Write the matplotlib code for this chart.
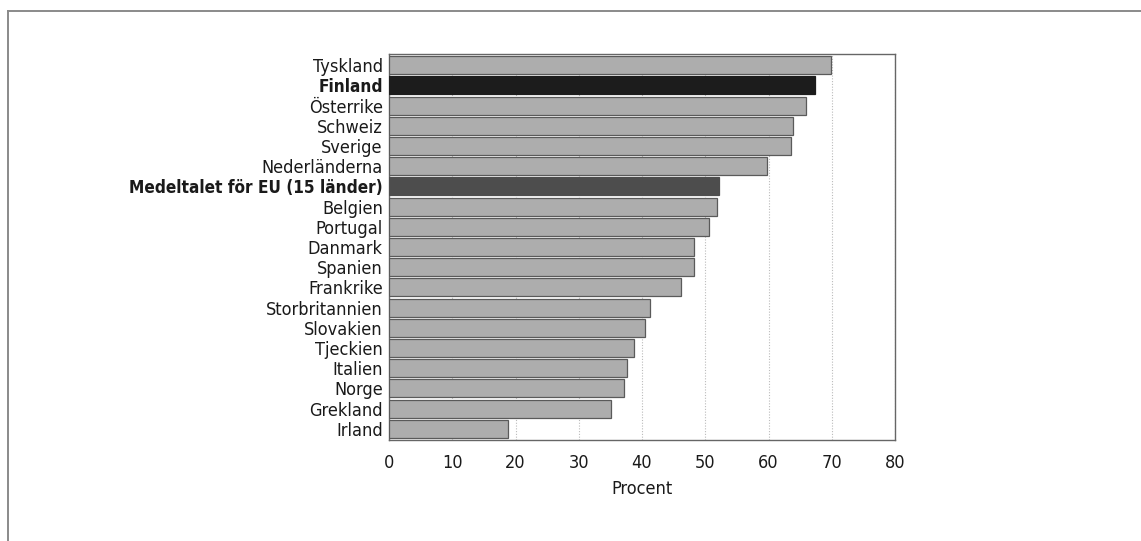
import matplotlib
matplotlib.use("Agg")
import matplotlib.pyplot as plt
from matplotlib.lines import Line2D

countries = ["Tyskland", "Finland", "Österrike", "Schweiz", "Sverige", "Nederländerna",
             "Medeltalet för EU (15 länder)", "Belgien", "Portugal", "Danmark", "Spanien",
             "Frankrike", "Storbritannien", "Slovakien", "Tjeckien", "Italien", "Norge",
             "Grekland", "Irland"]
values = [69.9, 67.3, 65.9, 63.8, 63.5, 59.7, 52.2, 51.8, 50.6, 48.2, 48.2, 46.2,
          41.3, 40.5, 38.8, 37.6, 37.1, 35.1, 18.8]
highlight = {"Finland": "#1c1c1c", "Medeltalet för EU (15 länder)": "#4d4d4d"}
bold_labels = ["Finland", "Medeltalet för EU (15 länder)"]
xticks = [0, 10, 20, 30, 40, 50, 60, 70, 80]

plt.rcParams['font.family'] = ['DejaVu Sans']
plt.rcParams['font.stretch'] = 'condensed'

fig = plt.figure(figsize=(11.41, 5.41), dpi=100)
fig.patch.set_facecolor("white")
ax = fig.add_axes([389/1141, 1-440/541, (895-389)/1141, (440-54)/541])

colors = [highlight.get(c, "#adadad") for c in countries]
edges = [highlight.get(c, "#5a5a5a") for c in countries]
ax.barh(range(len(countries)), values, height=0.89, color=colors, edgecolor=edges,
        linewidth=0.9, zorder=3)

fs = 13.0
txt = "#1a1a1a"
ax.set_xlim(0, 80)
ax.set_ylim(18.55, -0.55)
ax.set_xticks(xticks)
ax.set_xticklabels([str(t) for t in xticks], fontsize=fs, color=txt, stretch='condensed')
ax.set_yticks(range(len(countries)))
ax.set_yticklabels(countries, fontsize=fs, color=txt, stretch='condensed')
for lbl in ax.get_yticklabels():
    if lbl.get_text() in bold_labels:
        lbl.set_fontweight("bold")
        lbl.set_fontsize(12.3)
ax.tick_params(axis="both", length=0)
ax.tick_params(axis="y", pad=4.5)
ax.tick_params(axis="x", pad=10)
ax.set_xlabel("Procent", fontsize=fs, color=txt, labelpad=5.5, stretch='condensed')

ax.grid(axis="x", linestyle=(0, (1, 1.5)), color="#bbbbbb", linewidth=0.8, zorder=0)
ax.grid(axis="y", visible=False)
for s in ax.spines.values():
    s.set_color("#666666")
    s.set_linewidth(1.0)

# outer frame lines (top and left)
fig.add_artist(Line2D([8/1141, 1.0], [1-11/541, 1-11/541], transform=fig.transFigure,
                      color="#8a8a8a", linewidth=1.4))
fig.add_artist(Line2D([8/1141, 8/1141], [0.0, 1-11/541], transform=fig.transFigure,
                      color="#8a8a8a", linewidth=1.4))

fig.savefig("out.png", dpi=100, facecolor="white")
